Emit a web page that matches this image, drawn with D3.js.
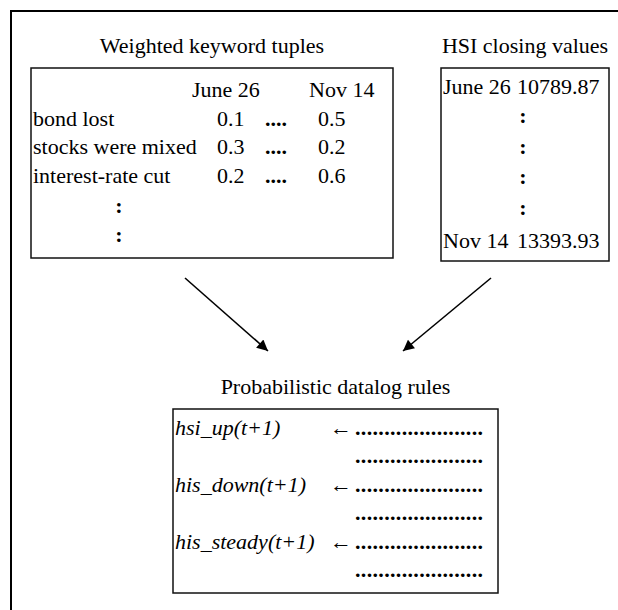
<!DOCTYPE html>
<html lang="en">
  <head>
    <meta charset="UTF-8" />
    <script src="https://d3js.org/d3.v7.min.js"></script>
    <title>Keyword tuples to datalog rules</title>
    <style>
      body { margin: 0; background: #fff; }
      svg { font-family: "Times New Roman", "Liberation Serif", Times, "DejaVu Serif", serif; }
      svg text { font-size: 22px; fill: #000; }
      .box { fill: none; stroke: #111; stroke-width: 1.5; }
      .frame { fill: none; stroke: #000; stroke-width: 2; }
      .dots { font-weight: bold; }
      .head { font-style: italic; }
    </style>
  </head>
  <body>
    <script>
      const titles = ['Weighted keyword tuples', 'HSI closing values', 'Probabilistic datalog rules']
      const dates = ['June 26', 'Nov 14']
      const keywords = ['bond lost', 'stocks were mixed', 'interest-rate cut']
      const weightsJune = [0.1, 0.3, 0.2]
      const weightsNov = [0.5, 0.2, 0.6]
      const hsiDates = ['June 26', 'Nov 14']
      const hsiValues = [10789.87, 13393.93]
      const ruleHeads = ['hsi_up(t+1)', 'his_down(t+1)', 'his_steady(t+1)']

      const width = 618
      const height = 610

      const svg = d3.select('body')
        .append('svg')
        .attr('width', width)
        .attr('height', height)
        .attr('font-family', '"Times New Roman", "Liberation Serif", serif')

      // outer frame runs off the right and bottom edge
      svg.append('rect').attr('class', 'frame')
        .attr('x', 11).attr('y', 11).attr('width', 640).attr('height', 640)

      // boxes
      const boxes = [
        { x0: 31, x1: 393, y0: 68, y1: 258 },
        { x0: 441, x1: 609, y0: 68, y1: 261 },
        { x0: 173, x1: 498, y0: 409, y1: 593 }
      ]
      svg.selectAll('rect.box')
        .data(boxes)
        .join('rect')
        .attr('class', 'box')
        .attr('x', d => d.x0).attr('y', d => d.y0)
        .attr('width', d => d.x1 - d.x0).attr('height', d => d.y1 - d.y0)

      svg.selectAll('text.title')
        .data(titles)
        .join('text')
        .attr('class', 'title')
        .attr('text-anchor', 'middle')
        .attr('x', (d, i) => (boxes[i].x0 + boxes[i].x1) / 2)
        .attr('y', (d, i) => boxes[i].y0 - 15.5)
        .text(d => d)

      // left table
      const rowY = d3.scaleLinear().domain([0, 5]).range([97, 240])
      const fmt = d3.format('.1f')
      const left = svg.append('g')
      left.selectAll('text.date')
        .data(dates)
        .join('text')
        .attr('x', (d, i) => [192, 309][i])
        .attr('y', rowY(0))
        .text(d => d)
      keywords.forEach((k, i) => {
        const y = rowY(i + 1)
        left.append('text').attr('x', 33).attr('y', y).text(k)
        left.append('text').attr('x', 217).attr('y', y).text(fmt(weightsJune[i]))
        left.append('text').attr('class', 'dots').attr('x', 265).attr('y', y).text('....')
        left.append('text').attr('x', 318).attr('y', y).text(fmt(weightsNov[i]))
      })
      left.selectAll('text.colon')
        .data([4, 5])
        .join('text')
        .attr('class', 'colon dots')
        .attr('text-anchor', 'middle')
        .attr('x', 119)
        .attr('y', d => rowY(d) + 2)
        .text(':')

      // right table
      const hsiY = d3.scaleLinear().domain([0, 5]).range([94, 248])
      const right = svg.append('g')
      hsiDates.forEach((d, i) => {
        const y = hsiY(i * 5)
        right.append('text').attr('x', 443).attr('y', y).text(d)
        right.append('text').attr('x', 517).attr('y', y).text(d3.format('.2f')(hsiValues[i]))
      })
      right.selectAll('text.colon')
        .data([1, 2, 3, 4])
        .join('text')
        .attr('class', 'colon dots')
        .attr('text-anchor', 'middle')
        .attr('x', 523)
        .attr('y', d => hsiY(d) - 2)
        .text(':')

      // arrows
      svg.append('defs').append('marker')
        .attr('id', 'head')
        .attr('viewBox', '0 0 10 10')
        .attr('refX', 10).attr('refY', 5)
        .attr('markerWidth', 13).attr('markerHeight', 11)
        .attr('markerUnits', 'userSpaceOnUse')
        .attr('orient', 'auto')
        .append('path').attr('d', 'M0,0L10,5L0,10Z').attr('fill', '#000')
      const arrows = [[185, 278, 268, 351], [491, 278, 403, 351]]
      svg.selectAll('line.arrow')
        .data(arrows)
        .join('line')
        .attr('class', 'arrow')
        .attr('x1', d => d[0]).attr('y1', d => d[1])
        .attr('x2', d => d[2]).attr('y2', d => d[3])
        .attr('stroke', '#000').attr('stroke-width', 1.6)
        .attr('marker-end', 'url(#head)')

      // rules
      const ruleY = d3.scaleLinear().domain([0, 5]).range([435, 577])
      const rules = svg.append('g')
      d3.range(6).forEach(i => {
        rules.append('text').attr('class', 'dots')
          .attr('x', 355).attr('y', ruleY(i))
          .attr('textLength', 128).attr('lengthAdjust', 'spacing')
          .text('.'.repeat(22))
      })
      ruleHeads.forEach((h, i) => {
        const y = ruleY(i * 2)
        rules.append('text').attr('class', 'head').attr('x', 175).attr('y', y).text(h)
        rules.append('text').attr('x', 330).attr('y', y).text('\u2190')
      })
    </script>
  </body>
</html>
